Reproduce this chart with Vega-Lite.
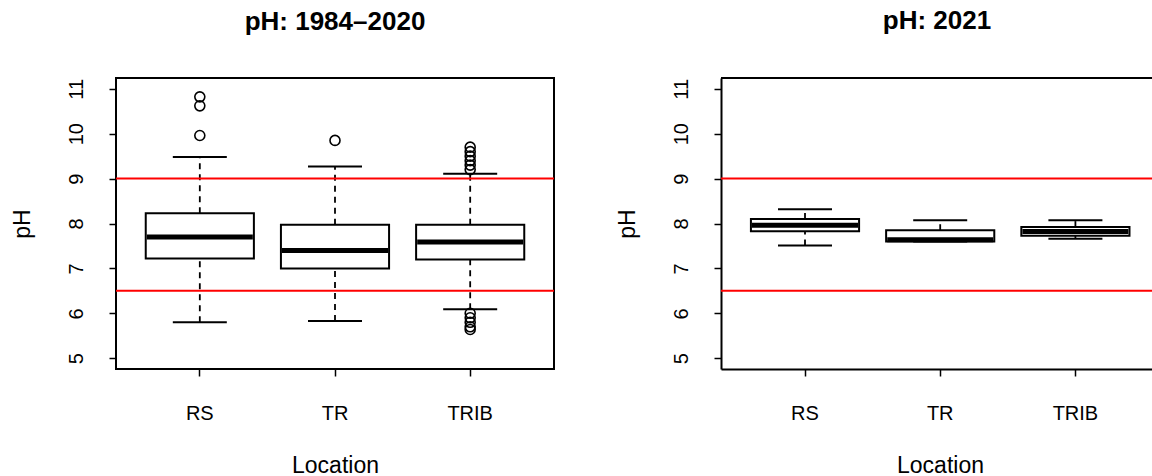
{
  "$schema": "https://vega.github.io/schema/vega-lite/v6.json",
  "background": "white",
  "padding": {"left": 10, "top": 8, "right": 0, "bottom": 6},
  "spacing": 60,
  "config": {
    "font": "Liberation Sans",
    "view": {"stroke": null},
    "axis": {"grid": false, "labelFont": "Liberation Sans", "titleFont": "Liberation Sans", "labelFontSize": 20, "titleFontSize": 23, "titleFontWeight": "normal", "labelColor": "#000000", "titleColor": "#000000", "tickColor": "#000000", "tickWidth": 1.5, "tickSize": 7, "domainColor": "#000000", "domainWidth": 2},
    "axisX": {"labelAngle": 0, "labelBaseline": "alphabetic", "labelPadding": 43, "titleBaseline": "alphabetic", "titleAlign": "center", "titleX": 219, "titleY": 103},
    "axisY": {"labelAngle": -90, "labelAlign": "center", "labelBaseline": "alphabetic", "labelPadding": 27, "titleAngle": -90, "titleAlign": "center", "titleBaseline": "alphabetic", "titleX": -87, "titleY": 145.5, "values": [5, 6, 7, 8, 9, 10, 11]},
    "title": {"font": "Liberation Sans", "fontSize": 26, "fontWeight": "bold", "color": "#000000", "anchor": "middle", "baseline": "alphabetic", "offset": 43, "frame": "group"}
  },
  "datasets": {
    "stats": [
      {"panel": 1, "loc": "RS", "lower": 5.80, "q1": 7.22, "median": 7.70, "q3": 8.23, "upper": 9.48},
      {"panel": 1, "loc": "TR", "lower": 5.83, "q1": 7.00, "median": 7.40, "q3": 7.97, "upper": 9.27},
      {"panel": 1, "loc": "TRIB", "lower": 6.09, "q1": 7.20, "median": 7.59, "q3": 7.97, "upper": 9.11},
      {"panel": 2, "loc": "RS", "lower": 7.51, "q1": 7.83, "median": 7.96, "q3": 8.10, "upper": 8.32},
      {"panel": 2, "loc": "TR", "lower": 7.60, "q1": 7.60, "median": 7.64, "q3": 7.85, "upper": 8.07},
      {"panel": 2, "loc": "TRIB", "lower": 7.66, "q1": 7.73, "median": 7.82, "q3": 7.92, "upper": 8.07}
    ],
    "outliers": [
      {"panel": 1, "loc": "RS", "value": 10.82},
      {"panel": 1, "loc": "RS", "value": 10.62},
      {"panel": 1, "loc": "RS", "value": 9.96},
      {"panel": 1, "loc": "TR", "value": 9.85},
      {"panel": 1, "loc": "TRIB", "value": 9.70},
      {"panel": 1, "loc": "TRIB", "value": 9.60},
      {"panel": 1, "loc": "TRIB", "value": 9.50},
      {"panel": 1, "loc": "TRIB", "value": 9.40},
      {"panel": 1, "loc": "TRIB", "value": 9.30},
      {"panel": 1, "loc": "TRIB", "value": 9.20},
      {"panel": 1, "loc": "TRIB", "value": 6.00},
      {"panel": 1, "loc": "TRIB", "value": 5.90},
      {"panel": 1, "loc": "TRIB", "value": 5.80},
      {"panel": 1, "loc": "TRIB", "value": 5.70},
      {"panel": 1, "loc": "TRIB", "value": 5.64}
    ],
    "limits": [{"limit": 9}, {"limit": 6.5}],
    "frame": [{"top": 11.24}]
  },
  "hconcat": [
    {
      "width": 438,
      "height": 291,
      "title": {"text": "pH: 1984\u20132020"},
      "view": {"stroke": "#000000", "strokeWidth": 2},
      "layer": [
        {
          "data": {"name": "stats"},
          "transform": [{"filter": "datum.panel == 1"}],
          "mark": {"type": "rule", "color": "#000000", "strokeWidth": 1.8, "strokeDash": [6, 5]},
          "encoding": {
            "x": {"field": "loc", "type": "nominal", "sort": ["RS", "TR", "TRIB"], "title": "Location", "scale": {"paddingInner": 0.2, "paddingOuter": 0.22}, "axis": {"domain": false}},
            "y": {"field": "q3", "type": "quantitative", "title": "pH", "scale": {"domain": [4.76, 11.24], "nice": false, "zero": false}, "axis": {"domain": false}},
            "y2": {"field": "upper"}
          }
        },
        {
          "data": {"name": "stats"},
          "transform": [{"filter": "datum.panel == 1"}],
          "mark": {"type": "rule", "color": "#000000", "strokeWidth": 1.8, "strokeDash": [6, 5]},
          "encoding": {
            "x": {"field": "loc", "type": "nominal", "sort": ["RS", "TR", "TRIB"], "title": "Location"},
            "y": {"field": "lower", "type": "quantitative", "title": "pH"},
            "y2": {"field": "q1"}
          }
        },
        {
          "data": {"name": "stats"},
          "transform": [{"filter": "datum.panel == 1"}],
          "mark": {"type": "tick", "color": "#000000", "opacity": 1, "size": 54, "thickness": 2},
          "encoding": {
            "x": {"field": "loc", "type": "nominal", "sort": ["RS", "TR", "TRIB"], "title": "Location"},
            "y": {"field": "upper", "type": "quantitative", "title": "pH"}
          }
        },
        {
          "data": {"name": "stats"},
          "transform": [{"filter": "datum.panel == 1"}],
          "mark": {"type": "tick", "color": "#000000", "opacity": 1, "size": 54, "thickness": 2},
          "encoding": {
            "x": {"field": "loc", "type": "nominal", "sort": ["RS", "TR", "TRIB"], "title": "Location"},
            "y": {"field": "lower", "type": "quantitative", "title": "pH"}
          }
        },
        {
          "data": {"name": "stats"},
          "transform": [{"filter": "datum.panel == 1"}],
          "mark": {"type": "bar", "fill": "#ffffff", "stroke": "#000000", "strokeWidth": 2, "opacity": 1},
          "encoding": {
            "x": {"field": "loc", "type": "nominal", "sort": ["RS", "TR", "TRIB"], "title": "Location"},
            "y": {"field": "q1", "type": "quantitative", "title": "pH"},
            "y2": {"field": "q3"}
          }
        },
        {
          "data": {"name": "stats"},
          "transform": [{"filter": "datum.panel == 1"}],
          "mark": {"type": "tick", "color": "#000000", "opacity": 1, "size": 106, "thickness": 5},
          "encoding": {
            "x": {"field": "loc", "type": "nominal", "sort": ["RS", "TR", "TRIB"], "title": "Location"},
            "y": {"field": "median", "type": "quantitative", "title": "pH"}
          }
        },
        {
          "data": {"name": "outliers"},
          "transform": [{"filter": "datum.panel == 1"}],
          "mark": {"type": "point", "shape": "circle", "filled": false, "stroke": "#000000", "opacity": 1, "strokeWidth": 1.6, "size": 100},
          "encoding": {
            "x": {"field": "loc", "type": "nominal", "sort": ["RS", "TR", "TRIB"], "title": "Location"},
            "y": {"field": "value", "type": "quantitative", "title": "pH"}
          }
        },
        {
          "data": {"name": "limits"},
          "mark": {"type": "rule", "color": "#ff0000", "strokeWidth": 2},
          "encoding": {
            "y": {"field": "limit", "type": "quantitative", "title": "pH"}
          }
        }
      ]
    },
    {
      "width": 432,
      "height": 291,
      "title": {"text": "pH: 2021"},
      "layer": [
        {
          "data": {"name": "stats"},
          "transform": [{"filter": "datum.panel == 2"}],
          "mark": {"type": "rule", "color": "#000000", "strokeWidth": 1.8, "strokeDash": [6, 5]},
          "encoding": {
            "x": {"field": "loc", "type": "nominal", "sort": ["RS", "TR", "TRIB"], "title": "Location", "scale": {"paddingInner": 0.2, "paddingOuter": 0.1976, "align": 0.56}, "axis": {"domain": true}},
            "y": {"field": "q3", "type": "quantitative", "title": "pH", "scale": {"domain": [4.76, 11.24], "nice": false, "zero": false}, "axis": {"domain": true}},
            "y2": {"field": "upper"}
          }
        },
        {
          "data": {"name": "stats"},
          "transform": [{"filter": "datum.panel == 2"}],
          "mark": {"type": "rule", "color": "#000000", "strokeWidth": 1.8, "strokeDash": [6, 5]},
          "encoding": {
            "x": {"field": "loc", "type": "nominal", "sort": ["RS", "TR", "TRIB"], "title": "Location"},
            "y": {"field": "lower", "type": "quantitative", "title": "pH"},
            "y2": {"field": "q1"}
          }
        },
        {
          "data": {"name": "stats"},
          "transform": [{"filter": "datum.panel == 2"}],
          "mark": {"type": "tick", "color": "#000000", "opacity": 1, "size": 54, "thickness": 2},
          "encoding": {
            "x": {"field": "loc", "type": "nominal", "sort": ["RS", "TR", "TRIB"], "title": "Location"},
            "y": {"field": "upper", "type": "quantitative", "title": "pH"}
          }
        },
        {
          "data": {"name": "stats"},
          "transform": [{"filter": "datum.panel == 2"}],
          "mark": {"type": "tick", "color": "#000000", "opacity": 1, "size": 54, "thickness": 2},
          "encoding": {
            "x": {"field": "loc", "type": "nominal", "sort": ["RS", "TR", "TRIB"], "title": "Location"},
            "y": {"field": "lower", "type": "quantitative", "title": "pH"}
          }
        },
        {
          "data": {"name": "stats"},
          "transform": [{"filter": "datum.panel == 2"}],
          "mark": {"type": "bar", "fill": "#ffffff", "stroke": "#000000", "strokeWidth": 2, "opacity": 1},
          "encoding": {
            "x": {"field": "loc", "type": "nominal", "sort": ["RS", "TR", "TRIB"], "title": "Location"},
            "y": {"field": "q1", "type": "quantitative", "title": "pH"},
            "y2": {"field": "q3"}
          }
        },
        {
          "data": {"name": "stats"},
          "transform": [{"filter": "datum.panel == 2"}],
          "mark": {"type": "tick", "color": "#000000", "opacity": 1, "size": 106, "thickness": 5},
          "encoding": {
            "x": {"field": "loc", "type": "nominal", "sort": ["RS", "TR", "TRIB"], "title": "Location"},
            "y": {"field": "median", "type": "quantitative", "title": "pH"}
          }
        },
        {
          "data": {"name": "limits"},
          "mark": {"type": "rule", "color": "#ff0000", "strokeWidth": 2},
          "encoding": {
            "y": {"field": "limit", "type": "quantitative", "title": "pH"}
          }
        },
        {
          "data": {"name": "frame"},
          "mark": {"type": "rule", "color": "#000000", "strokeWidth": 2},
          "encoding": {
            "y": {"field": "top", "type": "quantitative", "title": "pH"}
          }
        }
      ]
    }
  ]
}
